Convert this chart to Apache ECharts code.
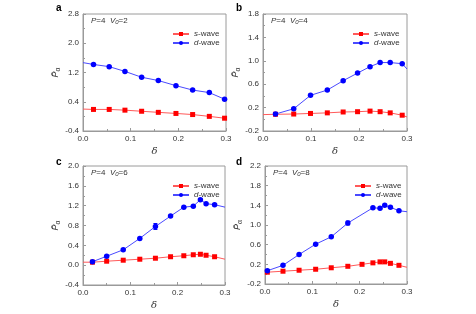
<!DOCTYPE html>
<html><head><meta charset="utf-8">
<script src="https://cdn.jsdelivr.net/npm/echarts@6/dist/echarts.min.js"></script>
<style>html,body{margin:0;padding:0;background:#fff}#c{width:476px;height:314px}</style>
</head><body><div id="c"></div>
<script>
// ---- data ----
// panel a (V0=2)
const aX  = [0.022, 0.055, 0.088, 0.123, 0.158, 0.195, 0.23, 0.265, 0.297];
const aS  = [0.19, 0.19, 0.17, 0.14, 0.11, 0.08, 0.05, 0.00, -0.05];
const aD  = [1.42, 1.36, 1.23, 1.07, 0.98, 0.84, 0.72, 0.65, 0.47];
const aSExt = [[0, 0.20]];
const aDExt = [[0, 1.47]];
// panel b (V0=4)
const bX  = [0.026, 0.064, 0.099, 0.134, 0.167, 0.197, 0.223, 0.244, 0.265, 0.29];
const bS  = [0.086, 0.09, 0.10, 0.11, 0.125, 0.13, 0.14, 0.13, 0.11, 0.07];
const bD  = [0.09, 0.18, 0.41, 0.50, 0.66, 0.79, 0.90, 0.97, 0.97, 0.95];
const bSExt = [[0, 0.08], [0.3, 0.04]];
const bDExt = [[0.3, 0.86]];
// panel c (V0=6)
const cX  = [0.02, 0.05, 0.085, 0.12, 0.153, 0.185, 0.213, 0.233, 0.248, 0.26, 0.278];
const cS  = [0.06, 0.08, 0.10, 0.12, 0.14, 0.17, 0.19, 0.21, 0.22, 0.20, 0.17];
const cD  = [0.07, 0.18, 0.31, 0.54, 0.78, 0.99, 1.17, 1.19, 1.32, 1.24, 1.22];
const cSExt = [[0, 0.06], [0.3, 0.12]];
const cDExt = [[0.3, 1.17]];
const cErr = [[0.153, 0.72, 0.84]];
// panel d (V0=8)
const dX  = [0.005, 0.038, 0.072, 0.107, 0.14, 0.175, 0.205, 0.228, 0.243, 0.253, 0.265, 0.283];
const dS  = [0.04, 0.06, 0.08, 0.10, 0.13, 0.16, 0.20, 0.23, 0.25, 0.25, 0.22, 0.18];
const dDx = [0.005, 0.038, 0.072, 0.107, 0.14, 0.175, 0.228, 0.243, 0.253, 0.265, 0.283];
const dD  = [0.07, 0.18, 0.40, 0.61, 0.76, 1.04, 1.35, 1.34, 1.40, 1.36, 1.29];
const dSExt = [[0, 0.03], [0.3, 0.14]];
const dDExt = [[0.3, 1.27]];
const dErr = [[0.175, 1.00, 1.08]];

const yRanges = [[-0.4, 2.8, 0.8], [-0.2, 1.8, 0.4], [-0.4, 2.0, 0.4], [-0.2, 2.2, 0.4]];
const xTicks = [0, 0.3, 0.1];
const V0 = ['2', '4', '6', '8'];
const letters = ['a', 'b', 'c', 'd'];

// ---- build ----
function merge(xs, ys, ext) {
  const pts = xs.map((x, i) => ({ value: [x, ys[i]] }));
  ext.forEach(e => pts.push({ value: e, symbol: 'none' }));
  pts.sort((p, q) => p.value[0] - q.value[0]);
  return pts;
}
const panels = [
  { s: merge(aX, aS, aSExt), d: merge(aX, aD, aDExt), err: [] },
  { s: merge(bX, bS, bSExt), d: merge(bX, bD, bDExt), err: [] },
  { s: merge(cX, cS, cSExt), d: merge(cX, cD, cDExt), err: cErr },
  { s: merge(dX, dS, dSExt), d: merge(dDx, dD, dDExt), err: dErr }
];
const grids = [
  { left: 83, top: 14, width: 143, height: 117 },
  { left: 263, top: 14, width: 144, height: 117 },
  { left: 83, top: 166, width: 142, height: 119 },
  { left: 265, top: 166, width: 142, height: 118 }
];
const RED = '#ff0000', BLUE = '#0000ff';
const RED_L = '#ff5a5a', BLUE_L = '#4a4aff';
const font = 'Liberation Sans, Arial, sans-serif';
const lblStyle = { color: '#333', fontSize: 8, fontFamily: font };
const AX = '#9a9a9a';

const option = {
  animation: false,
  backgroundColor: '#fff',
  grid: grids.map(g => Object.assign({ show: true, borderColor: AX, borderWidth: 1, backgroundColor: 'transparent' }, g)),
  xAxis: grids.map((g, i) => ({
    gridIndex: i, type: 'value', min: xTicks[0], max: xTicks[1], interval: xTicks[2],
    axisLine: { show: true, onZero: false, lineStyle: { color: AX } },
    axisTick: { show: true, inside: true, length: 3, lineStyle: { color: AX } },
    minorTick: { show: true, splitNumber: 2, length: 2, lineStyle: { color: AX } },
    splitLine: { show: false },
    axisLabel: Object.assign({ formatter: v => v.toFixed(1), margin: 4 }, lblStyle),
    name: 'δ', nameLocation: 'middle', nameGap: 15,
    nameTextStyle: { fontSize: 10, fontStyle: 'italic', fontFamily: 'DejaVu Serif, serif', color: '#333' }
  })),
  yAxis: grids.map((g, i) => ({
    gridIndex: i, type: 'value', min: yRanges[i][0], max: yRanges[i][1], interval: yRanges[i][2],
    axisLine: { show: true, lineStyle: { color: AX } },
    axisTick: { show: true, inside: true, length: 3, lineStyle: { color: AX } },
    minorTick: { show: true, splitNumber: 2, length: 2, lineStyle: { color: AX } },
    splitLine: { show: false },
    axisLabel: Object.assign({ formatter: v => v.toFixed(1), margin: 4 }, lblStyle),
    name: '{p|P\u0304}{a|α}', nameLocation: 'middle', nameGap: 12, nameRotate: 90,
    nameTextStyle: {
      rich: {
        p: { fontSize: 9, fontStyle: 'italic', fontFamily: font, color: '#333' },
        a: { fontSize: 7, fontFamily: font, color: '#333', verticalAlign: 'bottom', padding: [4, 0, 0, 0] }
      }
    }
  })),
  legend: grids.map((g, i) => ({
    data: ['s-wave', 'd-wave'],
    orient: 'vertical',
    padding: 0,
    left: g.left + 89, top: g.top + 16,
    itemWidth: 16, itemHeight: 5, itemGap: 1,
    formatter: n => '{i|' + n[0] + '}{n|' + n.slice(1) + '}',
    textStyle: {
      padding: [0, 0, 0, 0],
      rich: {
        i: { fontSize: 8, lineHeight: 9, fontStyle: 'italic', fontFamily: font, color: '#333' },
        n: { fontSize: 8, lineHeight: 9, fontFamily: font, color: '#333' }
      }
    },
    selectedMode: false
  })),
  title: grids.map((g, i) => ({
    text: '{i|P}{n|=4  }{i|V}{s|0}{n|=' + V0[i] + '}',
    padding: 0,
    left: g.left + 8, top: g.top + 2,
    textStyle: {
      fontWeight: 'normal',
      rich: {
        i: { fontSize: 8, fontWeight: 'normal', fontStyle: 'italic', fontFamily: font, color: '#333' },
        n: { fontSize: 8, fontWeight: 'normal', fontFamily: font, color: '#333' },
        s: { fontSize: 6, fontWeight: 'normal', fontStyle: 'italic', fontFamily: font, color: '#333', verticalAlign: 'bottom', padding: [3, 0, 0, 0] }
      }
    }
  })).concat(grids.map((g, i) => ({
    text: letters[i], padding: 0, left: (i % 2 === 0 ? 56 : 236), top: (i < 2 ? 3 : 157),
    textStyle: { fontSize: 10, fontWeight: 'bold', fontFamily: font, color: '#000' }
  }))),
  series: []
};

panels.forEach((p, i) => {
  option.series.push({
    name: 's-wave', type: 'line', xAxisIndex: i, yAxisIndex: i, data: p.s,
    symbol: 'rect', symbolSize: 5, clip: true,
    itemStyle: { color: RED }, lineStyle: { color: RED_L, width: 1 }
  });
  option.series.push({
    name: 'd-wave', type: 'line', xAxisIndex: i, yAxisIndex: i, data: p.d,
    symbol: 'circle', symbolSize: 5.5, clip: true,
    itemStyle: { color: BLUE }, lineStyle: { color: BLUE_L, width: 1 }
  });
  if (p.err.length) {
    option.series.push({
      type: 'custom', xAxisIndex: i, yAxisIndex: i, data: p.err,
      renderItem: (params, api) => {
        const lo = api.coord([api.value(0), api.value(1)]);
        const hi = api.coord([api.value(0), api.value(2)]);
        const w = 2;
        return { type: 'group', children: [
          { type: 'line', shape: { x1: lo[0], y1: lo[1], x2: hi[0], y2: hi[1] }, style: { stroke: BLUE, lineWidth: 1 } },
          { type: 'line', shape: { x1: lo[0] - w, y1: lo[1], x2: lo[0] + w, y2: lo[1] }, style: { stroke: BLUE, lineWidth: 1 } },
          { type: 'line', shape: { x1: hi[0] - w, y1: hi[1], x2: hi[0] + w, y2: hi[1] }, style: { stroke: BLUE, lineWidth: 1 } }
        ]};
      },
      z: 1
    });
  }
});

const chart = echarts.init(document.getElementById('c'), null, { renderer: 'canvas' });
chart.setOption(option);
</script>
</body></html>
